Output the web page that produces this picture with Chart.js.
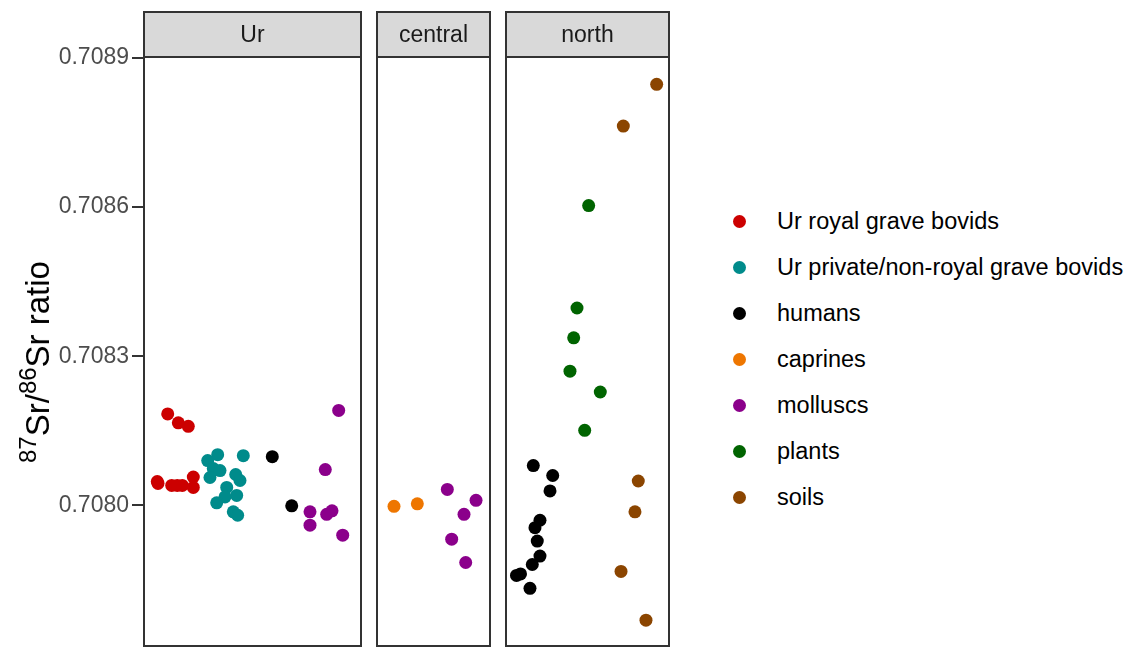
<!DOCTYPE html>
<html>
<head>
<meta charset="utf-8">
<script src="https://cdn.jsdelivr.net/npm/chart.js@4"></script>
<style>
  body { margin: 0; background: #fff; width: 1140px; height: 647px; overflow: hidden; position: relative; font-family: "Liberation Sans", Arial, sans-serif; }
  canvas { position: absolute; top: 0; }
  #ytitle { position: absolute; left: 38px; top: 362px; transform: translate(-50%, -50%) rotate(-90deg); white-space: nowrap; font-size: 33px; color: #000; }
  #ytitle sup { font-size: 24px; vertical-align: 13px; line-height: 0; }
  .leg { position: absolute; left: 733px; height: 24px; display: flex; align-items: center; font-size: 23.5px; color: #000; white-space: nowrap; }
  .leg span.dot { width: 13px; height: 13px; border-radius: 50%; display: inline-block; margin-right: 31px; }
</style>
</head>
<body>
<canvas id="panelUr" width="363" height="647" style="left:0px"></canvas>
<canvas id="panelCentral" width="121" height="647" style="left:373px"></canvas>
<canvas id="panelNorth" width="171" height="647" style="left:502px"></canvas>
<div id="ytitle"><sup>87</sup>Sr/<sup>86</sup>Sr ratio</div>
<div id="legend"></div>
<script>
// facets and groups
const facets = ['Ur', 'central', 'north'];
const groupNames = ['Ur royal grave bovids', 'Ur private/non-royal grave bovids', 'humans', 'caprines', 'molluscs', 'plants', 'soils'];
const groupColors = ['#CC0000', '#008B8B', '#000000', '#EE7600', '#8B008B', '#006400', '#8B4500'];
const yTicks = [0.7080, 0.7083, 0.7086, 0.7089];

// Ur panel (x = category position with jitter)
const royalX = [0.859, 1.064, 1.257, 0.657, 0.671, 0.936, 1.044, 1.141, 1.354, 1.354];
const royalY = [0.708184, 0.708166, 0.708159, 0.708048, 0.708044, 0.708040, 0.708040, 0.708040, 0.708057, 0.708036];
const privateX = [1.826, 2.322, 1.633, 1.741, 1.871, 1.677, 2.175, 2.258, 2.001, 2.194, 1.968, 1.807, 2.128, 2.213];
const privateY = [0.708102, 0.708100, 0.708090, 0.708074, 0.708070, 0.708056, 0.708062, 0.708050, 0.708036, 0.708020, 0.708017, 0.708005, 0.707987, 0.707980];
const humansUrX = [2.883, 3.259];
const humansUrY = [0.708098, 0.707999];
const molluscsUrX = [4.168, 3.909, 3.613, 3.613, 3.936, 4.039, 4.246];
const molluscsUrY = [0.708191, 0.708072, 0.707987, 0.707960, 0.707982, 0.707989, 0.707940];

// central panel
const caprinesX = [0.731, 1.185];
const caprinesY = [0.707998, 0.708003];
const molluscsCentralX = [1.769, 2.328, 2.094, 1.854, 2.127];
const molluscsCentralY = [0.708032, 0.708010, 0.707982, 0.707932, 0.707885];

// north panel
const humansNorthX = [0.936, 1.317, 1.264, 1.067, 0.969, 1.014, 1.067, 0.916, 0.606, 0.685, 0.871];
const humansNorthY = [0.708080, 0.708060, 0.708029, 0.707970, 0.707955, 0.707928, 0.707898, 0.707881, 0.707859, 0.707862, 0.707833];
const plantsX = [2.023, 1.794, 1.729, 1.656, 2.251, 1.945];
const plantsY = [0.708603, 0.708397, 0.708337, 0.708270, 0.708228, 0.708151];
const soilsX = [3.358, 2.703, 2.997, 2.932, 2.658, 3.148];
const soilsY = [0.708847, 0.708763, 0.708049, 0.707987, 0.707867, 0.707769];

const yMin = 0.707717, yMax = 0.708902;

function pts(xs, ys) {
  return xs.map((x, i) => ({ x: x, y: ys[i] }));
}
function ds(group, xs, ys) {
  const i = groupNames.indexOf(group);
  return {
    label: group,
    data: pts(xs, ys),
    backgroundColor: groupColors[i],
    borderWidth: 0,
    pointRadius: 6.5,
    pointHoverRadius: 6.5
  };
}

// panel border + strip
const facetFrame = {
  id: 'facetFrame',
  afterDraw(chart, args, opts) {
    const a = chart.chartArea;
    const ctx = chart.ctx;
    ctx.save();
    ctx.fillStyle = '#D9D9D9';
    ctx.fillRect(a.left, 12, a.right - a.left, a.top - 12);
    ctx.strokeStyle = '#333333';
    ctx.lineWidth = 2;
    ctx.strokeRect(a.left, 12, a.right - a.left, a.top - 12);
    ctx.strokeRect(a.left, a.top, a.right - a.left, a.bottom - a.top);
    ctx.fillStyle = '#1A1A1A';
    ctx.font = '23px "Liberation Sans", Arial, sans-serif';
    ctx.textAlign = 'center';
    ctx.textBaseline = 'middle';
    ctx.fillText(opts.text, (a.left + a.right) / 2, (12 + a.top) / 2 + 1);
    ctx.restore();
  }
};

function makePanel(id, facet, nCats, datasets, showY, padding) {
  new Chart(document.getElementById(id), {
    type: 'scatter',
    data: { datasets: datasets },
    plugins: [facetFrame],
    options: {
      responsive: false,
      animation: false,
      events: [],
      layout: { padding: padding, autoPadding: false },
      plugins: {
        legend: { display: false },
        tooltip: { enabled: false },
        facetFrame: { text: facet }
      },
      scales: {
        x: { type: 'linear', min: 0.4, max: nCats + 0.6, display: false },
        y: {
          type: 'linear',
          min: yMin,
          max: yMax,
          display: showY,
          afterBuildTicks: s => { s.ticks = yTicks.map(v => ({ value: v })); },
          afterFit: s => {
            if (showY) s.width = 144;
            s.paddingTop = 0;
            s.paddingBottom = 0;
          },
          grid: { drawOnChartArea: false, drawTicks: true, tickLength: 12, color: '#333333', lineWidth: 2 },
          border: { display: false },
          ticks: {
            color: '#4D4D4D',
            padding: 3,
            font: { family: '"Liberation Sans", Arial, sans-serif', size: 23 },
            callback: v => v.toFixed(4)
          }
        }
      }
    }
  });
}

makePanel('panelUr', facets[0], 4, [
  ds('Ur royal grave bovids', royalX, royalY),
  ds('Ur private/non-royal grave bovids', privateX, privateY),
  ds('humans', humansUrX, humansUrY),
  ds('molluscs', molluscsUrX, molluscsUrY)
], true, { left: 0, right: 2, top: 57, bottom: 1 });

makePanel('panelCentral', facets[1], 2, [
  ds('caprines', caprinesX, caprinesY),
  ds('molluscs', molluscsCentralX, molluscsCentralY)
], false, { left: 4, right: 4, top: 57, bottom: 1 });

makePanel('panelNorth', facets[2], 3, [
  ds('humans', humansNorthX, humansNorthY),
  ds('plants', plantsX, plantsY),
  ds('soils', soilsX, soilsY)
], false, { left: 4, right: 4, top: 57, bottom: 1 });

// legend
const legend = document.getElementById('legend');
groupNames.forEach((name, i) => {
  const row = document.createElement('div');
  row.className = 'leg';
  row.style.top = (209 + i * 46) + 'px';
  row.innerHTML = '<span class="dot" style="background:' + groupColors[i] + '"></span>' + name;
  legend.appendChild(row);
});
</script>
</body>
</html>
